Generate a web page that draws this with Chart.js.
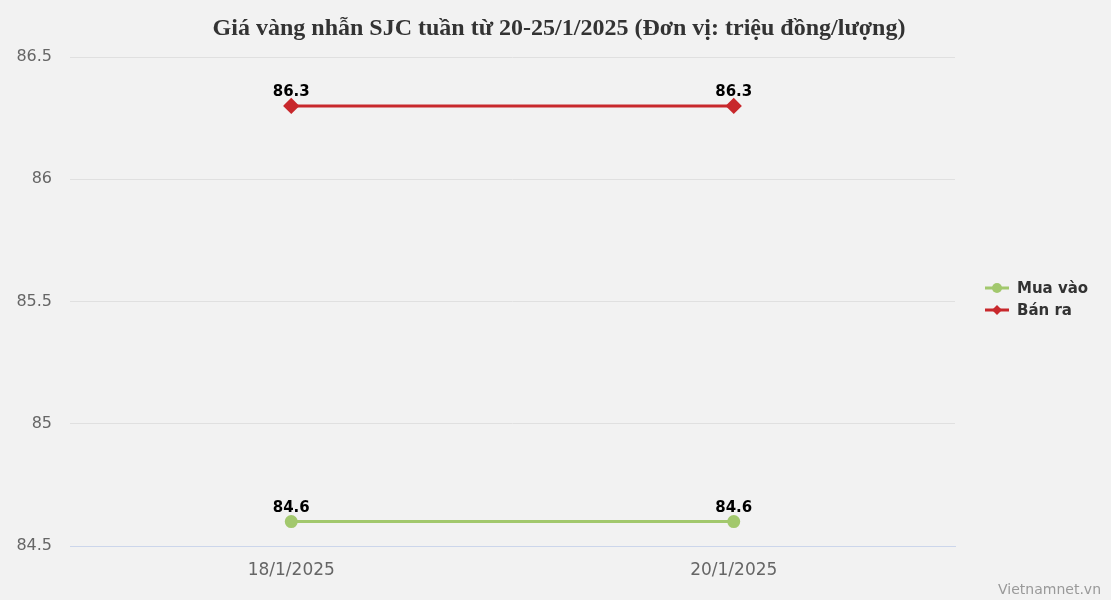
<!DOCTYPE html>
<html>
<head>
<meta charset="utf-8">
<script src="https://cdn.jsdelivr.net/npm/chart.js@4"></script>
<style>
html,body{margin:0;padding:0;background:#f2f2f2;}
#wrap{width:1111px;height:600px;position:relative;}
</style>
</head>
<body>
<div id="wrap"><canvas id="c"></canvas></div>
<script>
const labels = ['18/1/2025','20/1/2025'];
const muaVao = [84.6, 84.6];
const banRa = [86.3, 86.3];
const yTicks = [84.5, 85, 85.5, 86, 86.5];
const title = 'Giá vàng nhẫn SJC tuần từ 20-25/1/2025 (Đơn vị: triệu đồng/lượng)';

const GREEN = '#a2c86d', RED = '#c8282c';

const extras = {
  id:'extras',
  afterDatasetsDraw(chart){
    const ctx = chart.ctx;
    ctx.save();
    // data labels
    ctx.font = 'bold 15px "DejaVu Sans"';
    ctx.fillStyle = '#000';
    ctx.textAlign = 'center';
    ctx.textBaseline = 'alphabetic';
    chart.data.datasets.forEach((ds,i)=>{
      chart.getDatasetMeta(i).data.forEach((p,j)=>{
        ctx.fillText(String(ds.data[j]), p.x, p.y - 10);
      });
    });
    // title
    ctx.font = 'bold 24px "Liberation Serif"';
    ctx.fillStyle = '#333';
    ctx.fillText(title, 559, 35);
    // legend
    const items = [{t:'Mua vào',c:GREEN,s:'circle'},{t:'Bán ra',c:RED,s:'diamond'}];
    items.forEach((it,k)=>{
      const y = 288 + k*22;
      ctx.strokeStyle = it.c; ctx.lineWidth = 3;
      ctx.beginPath(); ctx.moveTo(985,y); ctx.lineTo(1009,y); ctx.stroke();
      ctx.fillStyle = it.c;
      ctx.beginPath();
      if(it.s==='circle'){ ctx.arc(997,y,5,0,Math.PI*2); }
      else { ctx.moveTo(997,y-5); ctx.lineTo(1002,y); ctx.lineTo(997,y+5); ctx.lineTo(992,y); ctx.closePath(); }
      ctx.fill();
      ctx.fillStyle = '#333';
      ctx.font = 'bold 15px "DejaVu Sans"';
      ctx.textAlign = 'left';
      ctx.textBaseline = 'middle';
      ctx.fillText(it.t, 1017, y+1);
    });
    // credit
    ctx.font = '14px "DejaVu Sans"';
    ctx.fillStyle = '#999';
    ctx.textAlign = 'right';
    ctx.textBaseline = 'alphabetic';
    ctx.fillText('Vietnamnet.vn', 1101, 594);
    ctx.restore();
  }
};

new Chart('c',{
  type:'line',
  data:{
    labels:labels,
    datasets:[
      {label:'Mua vào',data:muaVao,borderColor:GREEN,backgroundColor:GREEN,borderWidth:3,pointRadius:5,pointHoverRadius:5,pointStyle:'circle'},
      {label:'Bán ra',data:banRa,borderColor:RED,backgroundColor:RED,borderWidth:3,pointRadius:6,pointHoverRadius:6,pointStyle:'rectRot'}
    ]
  },
  options:{
    responsive:true,maintainAspectRatio:false,animation:false,
    layout:{padding:{top:57,right:156,left:0,bottom:0}},
    plugins:{legend:{display:false},tooltip:{enabled:false}},
    scales:{
      x:{offset:true,
        grid:{display:false,drawTicks:false},
        border:{color:'#ccd6eb',width:1},
        ticks:{color:'#666',font:{size:17,family:'DejaVu Sans'},padding:14},
        afterFit(s){s.height = 54;}
      },
      y:{min:84.5,max:86.5,
        afterBuildTicks(s){s.ticks = yTicks.map(v=>({value:v}));},
        grid:{color:'#e0e0e0',drawTicks:false},
        border:{display:false},
        ticks:{color:'#666',font:{size:16,family:'DejaVu Sans'},padding:18,callback:v=>String(v)},
        afterFit(s){s.width = 70;}
      }
    }
  },
  plugins:[extras]
});
</script>
</body>
</html>
